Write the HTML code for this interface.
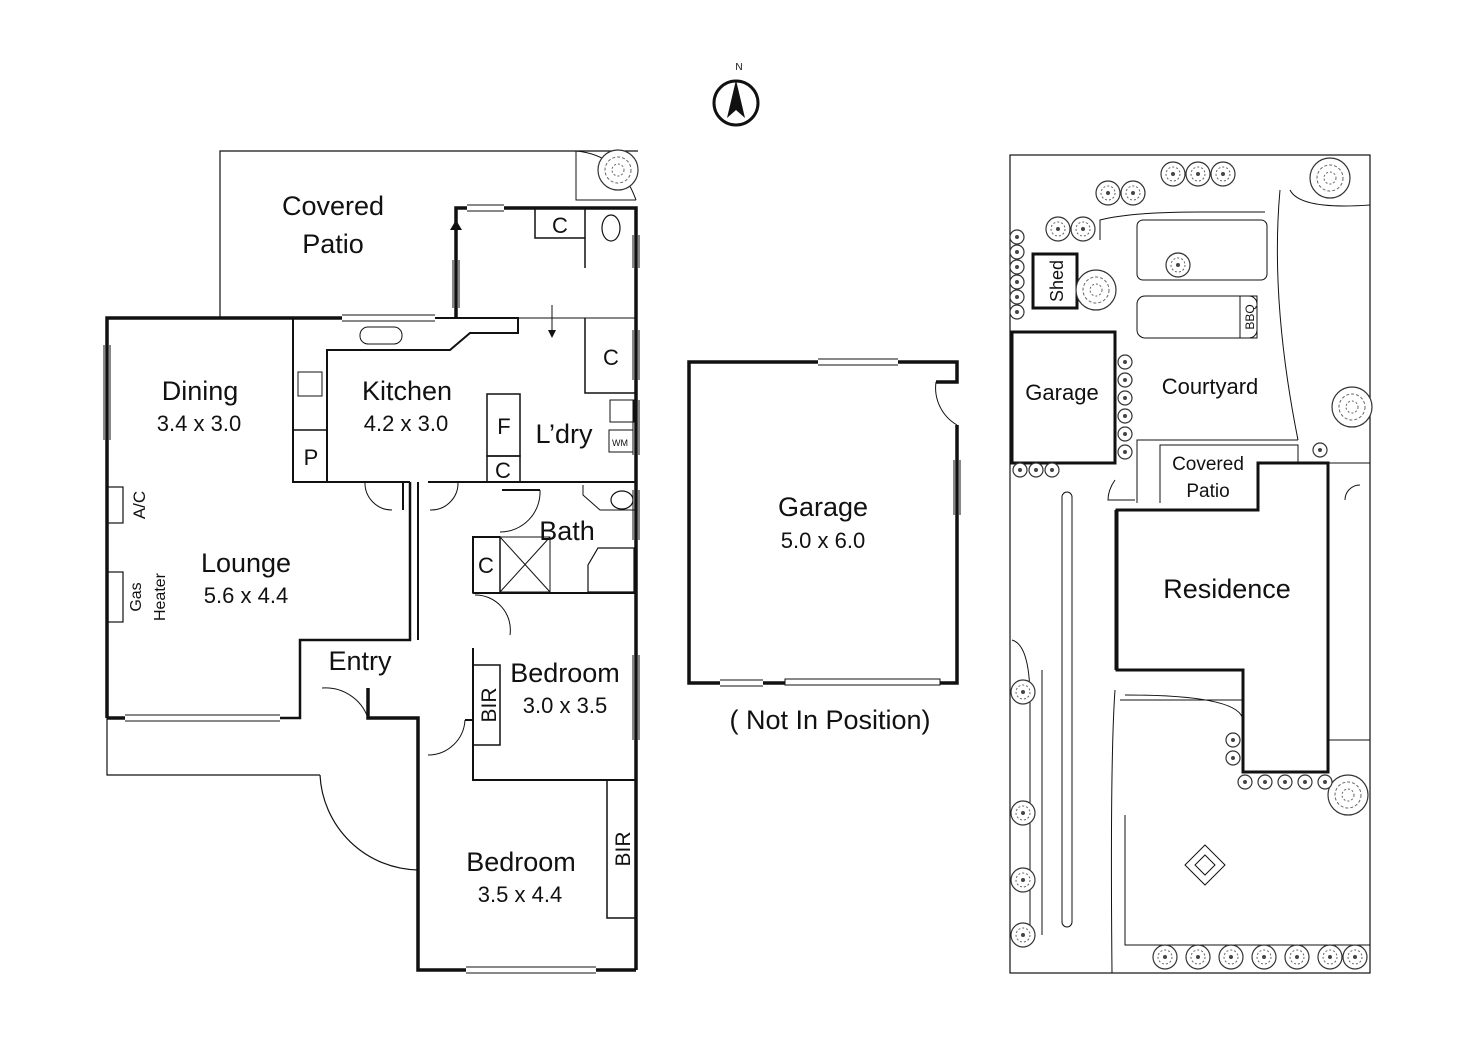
<!DOCTYPE html>
<html><head><meta charset="utf-8"><style>
html,body{margin:0;padding:0;background:#fff;}
svg{display:block;}
text{font-family:"Liberation Sans",sans-serif;fill:#111;}
</style></head><body>
<svg width="1472" height="1040" viewBox="0 0 1472 1040" xmlns="http://www.w3.org/2000/svg">
<defs>
<g id="tr"><circle r="12" fill="#fff" stroke="#333" stroke-width="1.2"/><circle r="7" fill="none" stroke="#666" stroke-width="1" stroke-dasharray="2 2"/><circle r="2" fill="#444"/></g>
<g id="tb"><circle r="20" fill="#fff" stroke="#333" stroke-width="1.2"/><circle r="13" fill="none" stroke="#666" stroke-width="1" stroke-dasharray="3 2"/><circle r="6" fill="none" stroke="#666" stroke-width="1" stroke-dasharray="2 2"/></g>
<g id="ts"><circle r="7" fill="#fff" stroke="#333" stroke-width="1.2"/><circle r="2" fill="#444"/></g>
</defs>
<!-- north -->
<circle cx="736" cy="103" r="22" fill="none" stroke="#111" stroke-width="3"/>
<polygon points="736,80 727,118 736,110 745,118" fill="#111"/>
<text x="739" y="70" font-size="10" text-anchor="middle">N</text>

<g fill="none" stroke="#111">
<!-- covered patio outline -->
<polyline points="220,318 220,151 638,151" stroke-width="1.2"/>
<path d="M576,151 Q620,155 636,200" stroke-width="1"/>
<polyline points="576,151 576,200 636,200" stroke-width="1"/>
<!-- main outer walls -->
<polyline points="107,718 107,318 342,318" stroke-width="3.5"/>
<polyline points="435,318 518,318 518,333 470,333 450,350 327,350 327,482 293,482 293,318" stroke-width="2"/>
<polyline points="456,318 456,208 467,208" stroke-width="3.5"/>
<polyline points="504,208 636,208 636,970" stroke-width="3.5"/>
<polyline points="107,718 125,718" stroke-width="3.5"/>
<polyline points="280,718 300,718 300,640 410,640 410,482" stroke-width="2.5"/>
<polyline points="368,688 368,718 418,718 418,970 466,970" stroke-width="3.5"/>
<polyline points="596,970 636,970" stroke-width="3.5"/>
<!-- windows -->
<g stroke-width="1"><line x1="125" y1="715" x2="280" y2="715"/><line x1="125" y1="721" x2="280" y2="721"/>
<line x1="342" y1="315" x2="435" y2="315"/><line x1="342" y1="321" x2="435" y2="321"/>
<line x1="467" y1="205" x2="504" y2="205"/><line x1="467" y1="211" x2="504" y2="211"/>
<line x1="466" y1="967" x2="596" y2="967"/><line x1="466" y1="973" x2="596" y2="973"/>
<line x1="104" y1="345" x2="104" y2="440"/><line x1="110" y1="345" x2="110" y2="440"/>
<line x1="453" y1="260" x2="453" y2="308"/><line x1="459" y1="260" x2="459" y2="308"/></g>
<polyline points="107,718 107,775 320,775" stroke-width="1.2"/>
<path d="M320,775 A100,100 0 0 0 418,870" stroke-width="1.2"/>
<!-- kitchen -->
<polyline points="293,482 410,482" stroke-width="2"/>
<polyline points="428,482 636,482" stroke-width="2"/>
<path d="M365,482 A27,27 0 0 0 392,510" stroke-width="1"/>
<path d="M458,482 A27,27 0 0 1 430,510" stroke-width="1"/>
<line x1="403" y1="482" x2="403" y2="510" stroke-width="2"/><line x1="418" y1="482" x2="418" y2="640" stroke-width="2"/>
<rect x="293" y="430" width="34" height="52" stroke-width="1.5"/>
<rect x="298" y="372" width="24" height="24" stroke-width="1"/>
<rect x="360" y="327" width="42" height="17" rx="8" stroke-width="1"/>
<!-- WC / laundry -->
<polyline points="535,208 535,238 585,238" stroke-width="1.5"/>
<line x1="585" y1="208" x2="585" y2="268" stroke-width="1.5"/>
<ellipse cx="611" cy="228" rx="9" ry="13" stroke-width="1.2"/>
<polyline points="518,318 636,318" stroke-width="1"/>
<polyline points="585,318 585,393 636,393" stroke-width="1.5"/>
<line x1="552" y1="305" x2="552" y2="335" stroke-width="1"/>
<rect x="487" y="394" width="33" height="62" stroke-width="1.5"/>
<rect x="487" y="456" width="33" height="26" stroke-width="1.5"/>
<rect x="610" y="400" width="24" height="22" stroke-width="1"/>
<rect x="609" y="430" width="24" height="22" stroke-width="1"/>
<!-- bath -->
<polyline points="502,490 540,490" stroke-width="2"/>
<path d="M540,490 A40,40 0 0 1 500,532" stroke-width="1"/>
<polyline points="473,593 473,537 500,537" stroke-width="2"/>
<rect x="500" y="537" width="50" height="55" stroke-width="1"/>
<line x1="500" y1="537" x2="550" y2="592" stroke-width="1"/><line x1="550" y1="537" x2="500" y2="592" stroke-width="1"/>
<polygon points="598,548 634,548 634,592 588,592 588,565" stroke-width="1.2"/>
<ellipse cx="622" cy="500" rx="11" ry="9" stroke-width="1.2"/>
<polyline points="583,485 583,495 600,510 636,510" stroke-width="1"/>
<rect x="473" y="537" width="27" height="56" stroke-width="1.5"/>
<!-- bedroom 1 -->
<polyline points="473,593 636,593" stroke-width="2"/>
<path d="M475,595 A35,35 0 0 1 510,635" stroke-width="1"/>
<polyline points="473,648 473,780 636,780" stroke-width="2"/>
<rect x="473" y="665" width="27" height="80" stroke-width="1.5"/>
<path d="M428,755 A37,37 0 0 0 465,720" stroke-width="1"/>
<line x1="465" y1="720" x2="473" y2="720" stroke-width="2"/>
<!-- bedroom 2 BIR -->
<rect x="607" y="780" width="29" height="138" stroke-width="1.5"/>
<!-- entry door -->
<path d="M368,718 A45,45 0 0 0 322,688" stroke-width="1"/>
<!-- A/C, heater -->
<rect x="107" y="487" width="16" height="36" stroke-width="1.2"/>
<rect x="107" y="572" width="16" height="50" stroke-width="1.2"/>
<!-- right side windows -->
<g stroke-width="1"><line x1="633" y1="235" x2="633" y2="268"/><line x1="639" y1="235" x2="639" y2="268"/>
<line x1="633" y1="330" x2="633" y2="380"/><line x1="639" y1="330" x2="639" y2="380"/>
<line x1="633" y1="400" x2="633" y2="455"/><line x1="639" y1="400" x2="639" y2="455"/>
<line x1="633" y1="490" x2="633" y2="540"/><line x1="639" y1="490" x2="639" y2="540"/>
<line x1="633" y1="655" x2="633" y2="740"/><line x1="639" y1="655" x2="639" y2="740"/></g>

<!-- Garage -->
<polyline points="818,362 689,362 689,683 720,683" stroke-width="3.5"/>
<polyline points="898,362 957,362 957,382 936,382" stroke-width="3.5"/>
<polyline points="957,425 957,683 940,683" stroke-width="3.5"/>
<line x1="763" y1="683" x2="785" y2="683" stroke-width="3.5"/>
<g stroke-width="1"><line x1="818" y1="359" x2="898" y2="359"/><line x1="818" y1="365" x2="898" y2="365"/>
<line x1="720" y1="680" x2="763" y2="680"/><line x1="720" y1="686" x2="763" y2="686"/>
<rect x="785" y="679" width="155" height="6"/>
<line x1="954" y1="460" x2="954" y2="515"/><line x1="960" y1="460" x2="960" y2="515"/></g>
<path d="M936,382 A43,43 0 0 0 957,425" stroke-width="1"/>

<!-- Site plan -->
<rect x="1010" y="155" width="360" height="818" stroke-width="1.2"/>
<rect x="1012" y="332" width="103" height="131" stroke-width="3"/>
<rect x="1033" y="254" width="44" height="54" stroke-width="3"/>
<polygon points="1117,510 1258,510 1258,463 1328,463 1328,772 1243,772 1243,670 1117,670" stroke-width="3"/>
<g stroke-width="1">
<polyline points="1137,503 1137,440 1298,440"/>
<polyline points="1160,503 1160,445 1298,445 1298,463"/>
<rect x="1137" y="296" width="120" height="42" rx="8"/>
<rect x="1137" y="220" width="130" height="60" rx="6"/>
<path d="M1100,240 L1100,220 Q1130,212 1200,212 L1265,212"/>
<path d="M1280,190 Q1270,300 1298,440"/>
<path d="M1290,190 Q1300,210 1370,205"/>
<path d="M1115,480 Q1108,490 1108,500 L1135,500"/>
<rect x="1062" y="492" width="10" height="435" rx="5"/>
<line x1="1115" y1="510" x2="1115" y2="670"/>
<path d="M1115,690 Q1110,760 1112,973"/>
<path d="M1125,695 Q1240,695 1243,720"/>
<line x1="1120" y1="700" x2="1243" y2="700"/>
<path d="M1042,670 L1042,935"/><path d="M1012,640 Q1030,645 1030,700 L1030,945"/>
<polyline points="1125,815 1125,945 1370,945"/>
<line x1="1328" y1="740" x2="1370" y2="740"/>
<polyline points="1328,463 1370,463"/>
<path d="M1345,500 A15,15 0 0 1 1360,485"/>
<polygon points="1205,845 1225,865 1205,885 1185,865"/>
<polygon points="1205,855 1215,865 1205,875 1195,865"/>
<rect x="1240" y="296" width="17" height="42"/>
</g>
</g>
<!-- trees -->
<use href="#tb" x="618" y="170"/>
<use href="#tb" x="1330" y="178"/><use href="#tb" x="1352" y="407"/><use href="#tb" x="1348" y="795"/>
<use href="#tb" x="1096" y="290"/>
<g><use href="#tr" x="1173" y="174"/><use href="#tr" x="1198" y="174"/><use href="#tr" x="1223" y="174"/><use href="#tr" x="1108" y="193"/><use href="#tr" x="1133" y="193"/><use href="#tr" x="1058" y="229"/><use href="#tr" x="1083" y="229"/><use href="#tr" x="1178" y="265"/>
<use href="#tr" x="1023" y="692"/><use href="#tr" x="1023" y="813"/><use href="#tr" x="1023" y="880"/><use href="#tr" x="1023" y="935"/>
<use href="#tr" x="1165" y="957"/><use href="#tr" x="1198" y="957"/><use href="#tr" x="1231" y="957"/><use href="#tr" x="1264" y="957"/><use href="#tr" x="1297" y="957"/><use href="#tr" x="1330" y="957"/><use href="#tr" x="1355" y="957"/></g>
<g><use href="#ts" x="1017" y="237"/><use href="#ts" x="1017" y="252"/><use href="#ts" x="1017" y="267"/><use href="#ts" x="1017" y="282"/><use href="#ts" x="1017" y="297"/><use href="#ts" x="1017" y="312"/>
<use href="#ts" x="1125" y="362"/><use href="#ts" x="1125" y="380"/><use href="#ts" x="1125" y="398"/><use href="#ts" x="1125" y="416"/><use href="#ts" x="1125" y="434"/><use href="#ts" x="1125" y="452"/>
<use href="#ts" x="1020" y="470"/><use href="#ts" x="1036" y="470"/><use href="#ts" x="1052" y="470"/><use href="#ts" x="1320" y="450"/>
<use href="#ts" x="1233" y="740"/><use href="#ts" x="1233" y="758"/><use href="#ts" x="1245" y="782"/><use href="#ts" x="1265" y="782"/><use href="#ts" x="1285" y="782"/><use href="#ts" x="1305" y="782"/><use href="#ts" x="1325" y="782"/></g>
<polygon points="456,220 450,230 462,230" fill="#111"/>
<polygon points="552,338 548,330 556,330" fill="#111"/>

<!-- labels -->
<g font-size="27" text-anchor="middle">
<text x="333" y="215">Covered</text><text x="333" y="253">Patio</text>
<text x="200" y="400">Dining</text><text x="407" y="400">Kitchen</text>
<text x="564" y="443">L’dry</text><text x="567" y="540">Bath</text>
<text x="246" y="572">Lounge</text><text x="360" y="670">Entry</text>
<text x="565" y="682">Bedroom</text><text x="521" y="871">Bedroom</text>
<text x="823" y="516">Garage</text><text x="830" y="729">( Not In Position)</text>
<text x="1227" y="598">Residence</text>
</g>
<g font-size="22" text-anchor="middle">
<text x="199" y="431">3.4 x 3.0</text><text x="406" y="431">4.2 x 3.0</text>
<text x="246" y="603">5.6 x 4.4</text><text x="565" y="713">3.0 x 3.5</text>
<text x="520" y="902">3.5 x 4.4</text><text x="823" y="548">5.0 x 6.0</text>
<text x="560" y="233">C</text><text x="611" y="365">C</text><text x="504" y="434">F</text>
<text x="503" y="478">C</text><text x="311" y="465">P</text><text x="486" y="573">C</text>
<text x="1062" y="400">Garage</text><text x="1210" y="394">Courtyard</text>
</g>
<g font-size="19" text-anchor="middle">
<text x="1208" y="470">Covered</text><text x="1208" y="497">Patio</text>
</g>
<text x="620" y="446" font-size="9" text-anchor="middle">WM</text>
<text transform="translate(145,505) rotate(-90)" font-size="17" text-anchor="middle">A/C</text>
<text transform="translate(141,597) rotate(-90)" font-size="16" text-anchor="middle">Gas</text>
<text transform="translate(165,597) rotate(-90)" font-size="16" text-anchor="middle">Heater</text>
<text transform="translate(496,705) rotate(-90)" font-size="21" text-anchor="middle">BIR</text>
<text transform="translate(630,849) rotate(-90)" font-size="21" text-anchor="middle">BIR</text>
<text transform="translate(1063,281) rotate(-90)" font-size="18" text-anchor="middle">Shed</text>
<text transform="translate(1254,317) rotate(-90)" font-size="12" text-anchor="middle">BBQ</text>
</svg>
</body></html>
